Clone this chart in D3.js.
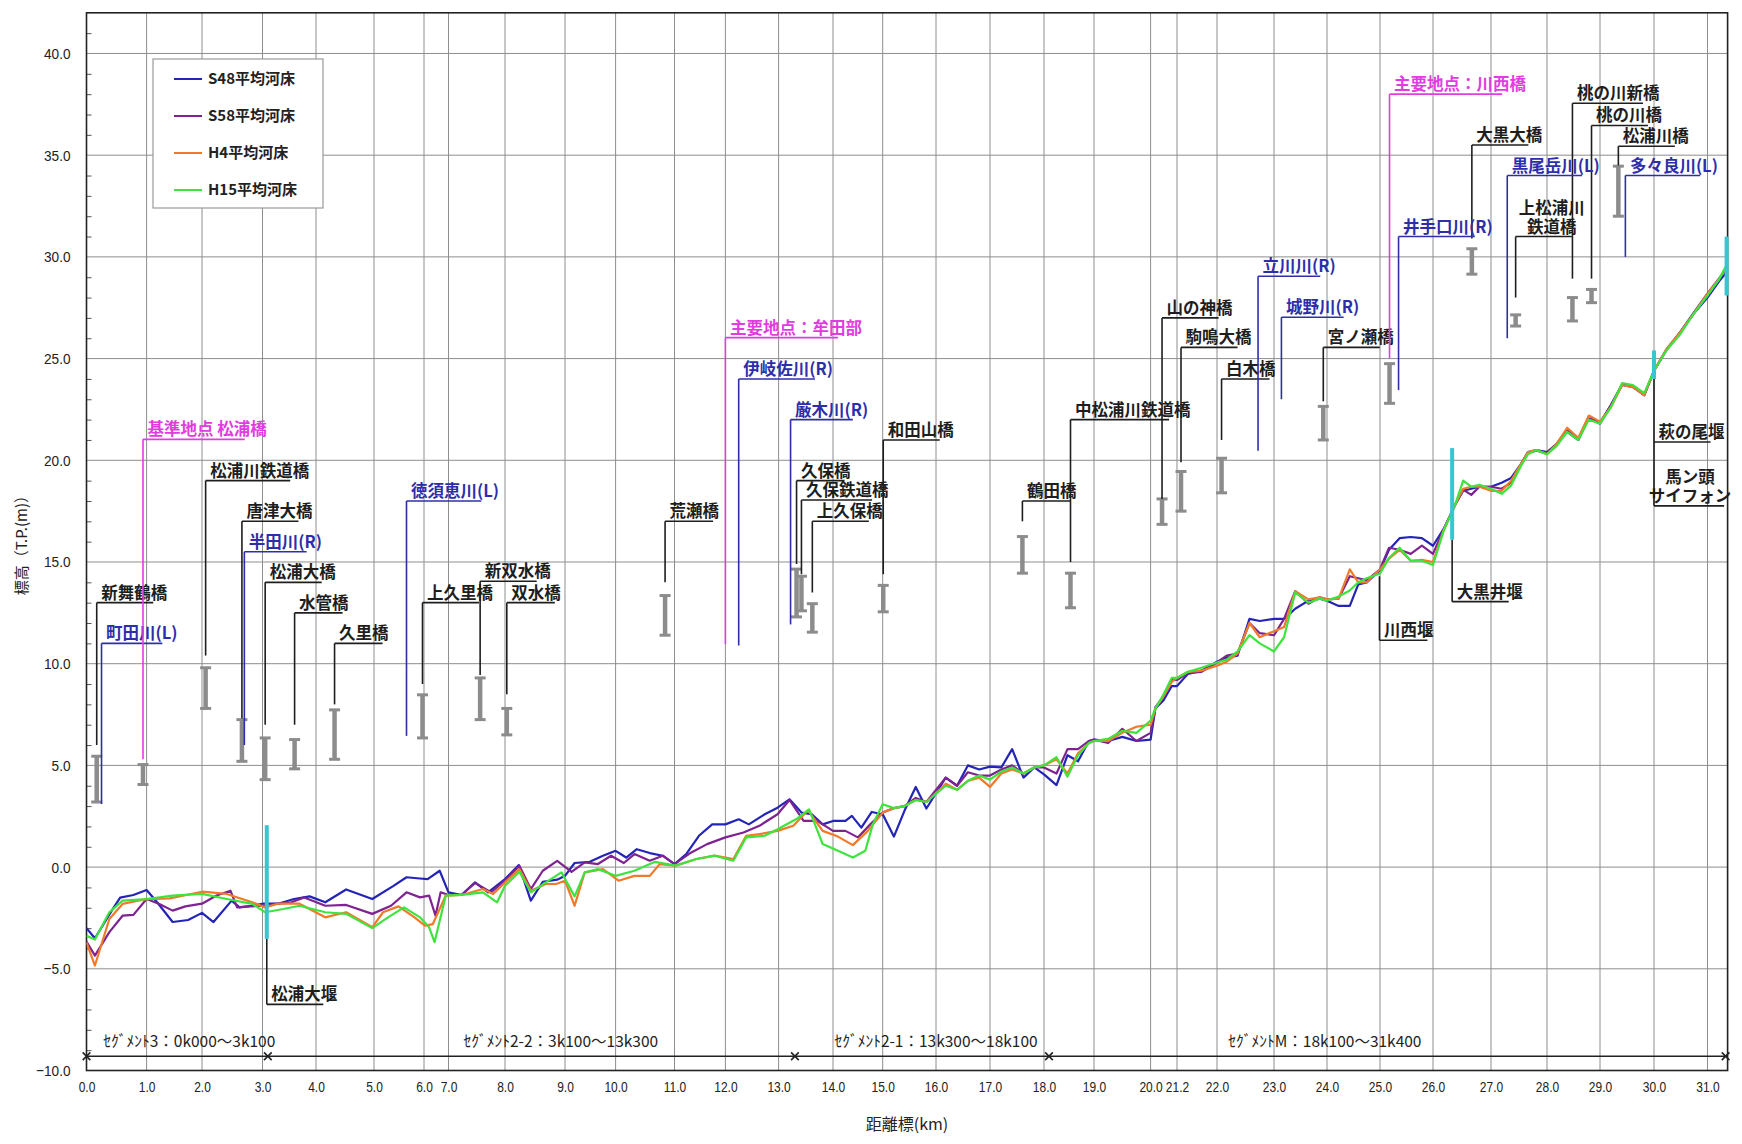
<!DOCTYPE html>
<html>
<head>
<meta charset="utf-8">
<script src="https://cdnjs.cloudflare.com/ajax/libs/d3/7.8.5/d3.min.js"></script>
<style>
  body { margin: 0; background: #fff; }
  svg text { font-family: "Noto Sans CJK JP", "Liberation Sans", sans-serif; }
</style>
</head>
<body>
<svg id="chart" width="1742" height="1144"></svg>
<script>
// ---- data ----
var xTicks = [0,1,2,3,4,5,6,7,8,9,10,11,12,13,14,15,16,17,18,19,20,21.2,22,23,24,25,26,27,28,29,30,31];
var xEnd = 31.4;
var yTicks = [-10,-5,0,5,10,15,20,25,30,35,40];

var seriesNames = ["S48平均河床", "S58平均河床", "H4平均河床", "H15平均河床"];

var s48 = [[0,-3.0],[0.14,-3.5],[0.42,-2.14],[0.56,-1.5],[0.78,-1.37],[1.0,-1.13],[1.19,-1.73],[1.47,-2.7],[1.75,-2.6],[2.0,-2.25],[2.19,-2.7],[2.49,-1.65],[2.62,-1.98],[2.83,-1.9],[3.0,-1.8],[3.29,-1.8],[3.59,-1.57],[3.88,-1.44],[4.16,-1.73],[4.52,-1.1],[4.97,-1.57],[5.39,-0.92],[5.65,-0.5],[5.92,-0.56],[6.15,-0.59],[6.64,-0.18],[7.0,-1.24],[7.23,-1.37],[7.47,-0.75],[7.7,-1.24],[8.0,-0.59],[8.23,0.1],[8.43,-1.65],[8.63,-0.72],[8.87,-0.62],[9.0,-0.43],[9.19,0.2],[9.49,0.26],[9.75,0.56],[10.0,0.8],[10.18,0.47],[10.36,0.88],[10.58,0.69],[10.8,0.56],[11.0,0.15],[11.23,0.64],[11.48,1.54],[11.74,2.1],[12.0,2.1],[12.25,2.35],[12.44,2.1],[12.74,2.6],[12.98,2.92],[13.2,3.33],[13.42,2.68],[13.61,2.6],[13.81,2.1],[14.0,2.27],[14.25,2.27],[14.38,2.52],[14.57,1.94],[14.78,2.71],[15.0,2.6],[15.21,1.5],[15.41,2.78],[15.62,3.94],[15.82,2.88],[16.18,4.4],[16.39,4.0],[16.59,5.0],[16.8,4.8],[17.0,4.94],[17.21,4.9],[17.41,5.8],[17.62,4.4],[17.82,4.9],[18.0,4.56],[18.25,4.03],[18.47,5.5],[18.68,5.2],[18.9,6.2],[19.0,6.27],[19.25,6.2],[19.5,6.4],[19.75,6.2],[20.0,6.27],[20.22,7.8],[20.59,8.2],[20.96,8.9],[21.2,8.9],[21.42,9.5],[21.69,9.66],[22.0,10.1],[22.17,10.3],[22.36,10.4],[22.57,12.2],[22.75,12.1],[23.0,12.2],[23.19,12.2],[23.4,12.7],[23.65,13.1],[23.86,13.2],[24.0,13.1],[24.22,12.84],[24.43,12.84],[24.59,13.9],[24.75,14.0],[25.0,14.6],[25.17,15.6],[25.37,16.17],[25.58,16.23],[25.79,16.17],[26.0,15.8],[26.19,16.65],[26.38,17.8],[26.52,18.5],[26.66,18.6],[26.8,18.7],[27.0,18.7],[27.19,18.9],[27.36,19.13],[27.53,19.8],[27.66,20.4],[27.81,20.5],[28.0,20.4],[28.18,20.8],[28.38,21.4],[28.59,21.0],[28.79,22.1],[29.0,21.8],[29.2,22.7],[29.41,23.7],[29.61,23.6],[29.82,23.2],[30.0,24.4],[30.23,25.4],[30.49,26.3],[30.74,27.2],[31.0,28.0],[31.23,28.8],[31.4,29.3]];

var s58 = [[0,-3.66],[0.14,-4.35],[0.38,-3.2],[0.6,-2.39],[0.78,-2.35],[1.0,-1.57],[1.23,-1.81],[1.47,-2.14],[1.7,-1.93],[2.0,-1.8],[2.24,-1.4],[2.47,-1.16],[2.58,-1.98],[2.79,-1.93],[3.0,-1.9],[3.29,-1.8],[3.54,-1.73],[3.78,-1.49],[4.16,-1.9],[4.52,-1.86],[4.97,-2.3],[5.34,-1.9],[5.65,-1.24],[5.92,-1.49],[6.21,-1.4],[6.47,-2.39],[6.68,-1.24],[7.0,-1.37],[7.23,-1.37],[7.47,-0.78],[7.75,-1.24],[8.0,-0.67],[8.24,0.07],[8.43,-1.08],[8.63,-0.18],[8.87,0.31],[9.13,-0.23],[9.39,0.23],[9.65,0.15],[9.91,0.56],[10.14,0.2],[10.32,0.64],[10.58,0.31],[10.8,0.56],[11.0,0.15],[11.33,0.72],[11.64,1.13],[12.0,1.46],[12.34,1.7],[12.64,2.03],[12.98,2.6],[13.2,3.3],[13.46,2.27],[13.71,2.27],[14.0,1.78],[14.25,1.78],[14.5,1.46],[14.75,2.1],[15.0,2.68],[15.21,2.9],[15.41,3.0],[15.62,3.4],[15.82,3.2],[16.18,4.4],[16.39,4.0],[16.59,4.66],[16.8,4.5],[17.0,4.5],[17.21,4.8],[17.41,5.0],[17.62,4.6],[17.82,4.9],[18.0,4.9],[18.25,4.6],[18.47,5.8],[18.68,5.8],[18.9,6.2],[19.0,6.27],[19.25,6.1],[19.5,6.8],[19.75,6.2],[20.0,6.6],[20.22,7.86],[20.59,8.4],[20.96,9.2],[21.2,9.2],[21.42,9.55],[21.69,9.6],[22.0,10.06],[22.17,10.4],[22.36,10.5],[22.57,12.0],[22.75,11.5],[23.0,11.4],[23.19,12.2],[23.4,13.57],[23.65,12.95],[23.86,13.26],[24.0,13.16],[24.22,13.2],[24.43,14.3],[24.59,14.2],[24.75,14.1],[25.0,14.64],[25.17,15.7],[25.37,15.6],[25.58,15.4],[25.79,15.8],[26.0,15.4],[26.19,16.65],[26.38,17.8],[26.52,18.56],[26.66,18.3],[26.8,18.7],[27.0,18.7],[27.19,18.6],[27.36,18.9],[27.53,19.77],[27.66,20.36],[27.81,20.47],[28.0,20.36],[28.18,20.8],[28.38,21.5],[28.59,21.0],[28.79,22.16],[29.0,21.84],[29.2,22.7],[29.41,23.75],[29.61,23.64],[29.82,23.2],[30.0,24.4],[30.23,25.45],[30.49,26.3],[30.74,27.25],[31.0,28.2],[31.23,28.94],[31.4,29.5]];

var h4 = [[0,-3.7],[0.14,-4.84],[0.38,-2.55],[0.6,-1.81],[1.0,-1.57],[1.42,-1.54],[2.0,-1.21],[2.41,-1.32],[2.83,-1.73],[3.05,-1.98],[3.29,-1.8],[3.69,-1.8],[4.16,-2.47],[4.52,-2.22],[4.97,-2.96],[5.18,-2.22],[5.49,-1.93],[5.81,-2.47],[6.04,-2.88],[6.36,-2.8],[6.89,-1.4],[7.23,-1.37],[7.61,-1.08],[7.79,-1.32],[8.0,-0.75],[8.24,-0.1],[8.43,-1.16],[8.68,-0.83],[8.85,-0.83],[9.0,-0.67],[9.19,-1.9],[9.39,-0.26],[9.75,-0.1],[10.05,-0.67],[10.32,-0.43],[10.58,-0.43],[10.75,0.15],[11.02,0.07],[11.43,0.4],[11.79,0.56],[12.15,0.4],[12.39,1.54],[12.64,1.62],[12.98,1.78],[13.27,2.03],[13.54,2.8],[13.81,1.78],[14.1,1.5],[14.4,1.08],[14.7,1.78],[15.0,2.68],[15.21,2.9],[15.41,3.0],[15.62,3.3],[15.82,3.2],[16.18,4.1],[16.39,3.8],[16.59,4.24],[16.8,4.4],[17.0,3.94],[17.21,4.6],[17.41,4.8],[17.62,4.6],[17.82,4.9],[18.0,5.0],[18.25,5.3],[18.47,4.6],[18.68,5.6],[18.9,6.1],[19.0,6.2],[19.25,6.2],[19.5,6.6],[19.75,6.9],[20.0,7.0],[20.22,7.8],[20.59,8.4],[20.96,9.1],[21.2,9.3],[21.42,9.6],[21.69,9.66],[22.0,9.9],[22.17,10.1],[22.36,10.5],[22.57,12.0],[22.75,11.3],[23.0,11.6],[23.19,11.8],[23.4,13.57],[23.65,13.16],[23.86,13.26],[24.0,13.16],[24.22,13.2],[24.43,14.64],[24.59,14.0],[24.75,14.0],[25.0,14.64],[25.17,15.17],[25.37,15.6],[25.58,15.06],[25.79,15.1],[26.0,15.0],[26.19,16.6],[26.38,17.8],[26.52,18.6],[26.66,18.7],[26.8,18.7],[27.0,18.5],[27.19,18.5],[27.36,19.0],[27.53,19.8],[27.66,20.4],[27.81,20.5],[28.0,20.3],[28.18,20.8],[28.38,21.6],[28.59,21.1],[28.79,22.2],[29.0,21.9],[29.2,22.6],[29.41,23.7],[29.61,23.6],[29.82,23.2],[30.0,24.4],[30.23,25.45],[30.49,26.3],[30.74,27.2],[31.0,28.2],[31.23,28.9],[31.4,29.6]];

var h15 = [[0,-3.37],[0.14,-3.56],[0.38,-2.22],[0.6,-1.65],[1.0,-1.57],[1.47,-1.4],[2.0,-1.32],[2.41,-1.57],[2.83,-1.81],[3.05,-2.22],[3.39,-2.06],[3.69,-1.9],[4.16,-2.22],[4.52,-2.3],[4.97,-3.0],[5.28,-2.47],[5.6,-1.98],[5.92,-2.47],[6.21,-2.96],[6.43,-3.69],[6.89,-1.4],[7.23,-1.37],[7.61,-1.24],[7.86,-1.73],[8.0,-0.92],[8.24,-0.23],[8.43,-1.24],[8.68,-0.75],[8.94,-0.26],[9.19,-1.44],[9.39,-0.26],[9.65,-0.1],[10.0,-0.43],[10.32,-0.18],[10.67,0.26],[11.02,0.07],[11.43,0.4],[11.79,0.56],[12.15,0.31],[12.39,1.46],[12.74,1.54],[12.98,1.86],[13.32,2.35],[13.56,2.84],[13.81,1.13],[14.1,0.8],[14.4,0.47],[14.65,0.8],[14.8,2.1],[15.0,3.09],[15.21,2.9],[15.41,3.0],[15.62,3.3],[15.82,3.2],[16.18,4.0],[16.39,3.8],[16.59,4.24],[16.8,4.5],[17.0,4.3],[17.21,4.7],[17.41,4.9],[17.62,4.6],[17.82,4.9],[18.0,5.0],[18.25,5.4],[18.47,4.45],[18.68,5.5],[18.9,6.1],[19.0,6.2],[19.25,6.3],[19.5,6.7],[19.75,6.6],[20.0,7.2],[20.22,7.8],[20.59,8.5],[20.96,9.3],[21.2,9.3],[21.42,9.6],[21.69,9.8],[22.0,10.06],[22.17,10.2],[22.36,10.6],[22.57,11.4],[22.75,11.0],[23.0,10.6],[23.19,11.3],[23.4,13.5],[23.65,13.0],[23.86,13.2],[24.0,13.1],[24.22,13.3],[24.43,13.6],[24.59,14.0],[24.75,14.2],[25.0,14.43],[25.17,15.2],[25.37,15.7],[25.58,15.06],[25.79,15.06],[26.0,14.85],[26.19,16.6],[26.38,17.8],[26.52,19.0],[26.66,18.7],[26.8,18.8],[27.0,18.6],[27.19,18.35],[27.36,18.77],[27.53,19.7],[27.66,20.3],[27.81,20.5],[28.0,20.3],[28.18,20.7],[28.38,21.4],[28.59,21.0],[28.79,22.0],[29.0,21.8],[29.2,22.6],[29.41,23.8],[29.61,23.7],[29.82,23.3],[30.0,24.4],[30.23,25.4],[30.49,26.2],[30.74,27.2],[31.0,28.1],[31.23,28.9],[31.4,29.7]];

// bridges: km, label elevation, leader bottom elevation, bar [lo, hi]
var bridges = [
  {name: "新舞鶴橋", km: 0.17, label: 13.0, from: 6.0, lo: 3.2, hi: 5.45},
  {name: "松浦川鉄道橋", km: 2.06, label: 19.0, from: 10.4, lo: 7.8, hi: 9.8},
  {name: "唐津大橋", km: 2.66, label: 17.0, from: 7.3, lo: 5.2, hi: 7.25},
  {name: "松浦大橋", km: 3.05, label: 14.0, from: 7.0, lo: 4.3, hi: 6.35},
  {name: "水管橋", km: 3.6, label: 12.5, from: 7.0, lo: 4.83, hi: 6.27},
  {name: "久里橋", km: 4.32, label: 11.0, from: 8.0, lo: 5.3, hi: 7.73},
  {name: "上久里橋", km: 5.97, label: 13.0, from: 9.0, lo: 6.35, hi: 8.47},
  {name: "新双水橋", km: 7.56, label: 14.05, from: 9.45, lo: 7.25, hi: 9.3},
  {name: "双水橋", km: 8.03, label: 13.0, from: 8.5, lo: 6.5, hi: 7.8},
  {name: "荒瀬橋", km: 10.84, label: 17.0, from: 14.0, lo: 11.4, hi: 13.35},
  {name: "久保橋", km: 13.33, label: 19.0, from: 14.9, lo: 12.3, hi: 14.65},
  {name: "久保鉄道橋", km: 13.42, label: 18.05, from: 14.4, lo: 12.6, hi: 14.3},
  {name: "上久保橋", km: 13.62, label: 17.0, from: 13.5, lo: 11.55, hi: 12.95},
  {name: "和田山橋", km: 15.01, label: 21.0, from: 14.4, lo: 12.55, hi: 13.85},
  {name: "鶴田橋", km: 17.6, label: 18.0, from: 17.0, lo: 14.45, hi: 16.25},
  {name: "中松浦川鉄道橋", km: 18.53, label: 22.0, from: 15.0, lo: 12.75, hi: 14.45},
  {name: "山の神橋", km: 20.52, label: 27.0, from: 18.1, lo: 16.85, hi: 18.1},
  {name: "駒鳴大橋", km: 21.28, label: 25.55, from: 19.9, lo: 17.5, hi: 19.45},
  {name: "白木橋", km: 22.08, label: 24.0, from: 21.0, lo: 18.4, hi: 20.1},
  {name: "宮ノ瀬橋", km: 23.93, label: 25.55, from: 22.9, lo: 21.0, hi: 22.65},
  {name: "大黒大橋", km: 26.67, label: 35.5, from: 30.9, lo: 29.15, hi: 30.4},
  {name: "上松浦川\n鉄道橋", km: 27.44, label: 31.0, from: 28.0, lo: 26.6, hi: 27.15},
  {name: "桃の川新橋", km: 28.48, label: 37.55, from: 28.93, lo: 26.85, hi: 28.0},
  {name: "桃の川橋", km: 28.84, label: 36.46, from: 28.93, lo: 27.75, hi: 28.4},
  {name: "松浦川橋", km: 29.34, label: 35.44, from: 34.5, lo: 32.0, hi: 34.46}
];

var mainPoints = [
  {name: "基準地点 松浦橋", km: 0.94, label: 21.03, from: 5.3, lo: 4.06, hi: 5.04},
  {name: "主要地点：牟田部", km: 12.0, label: 26.03, from: 10.95},
  {name: "主要地点：川西橋", km: 25.18, label: 38.0, from: 25.0, lo: 22.8, hi: 24.75}
];

var tributaries = [
  {name: "町田川(L)", km: 0.25, label: 11.0, from: 3.1},
  {name: "半田川(R)", km: 2.7, label: 15.5, from: 6.0},
  {name: "徳須恵川(L)", km: 5.65, label: 18.0, from: 6.45},
  {name: "伊岐佐川(R)", km: 12.25, label: 24.0, from: 10.9},
  {name: "厳木川(R)", km: 13.22, label: 22.0, from: 11.93},
  {name: "立川川(R)", km: 22.72, label: 29.05, from: 20.47},
  {name: "城野川(R)", km: 23.14, label: 27.03, from: 23.0},
  {name: "井手口川(R)", km: 25.35, label: 31.0, from: 23.45},
  {name: "黒尾岳川(L)", km: 27.29, label: 34.0, from: 26.0},
  {name: "多々良川(L)", km: 29.47, label: 34.0, from: 30.0}
];

// weirs: cyan bar [lo, hi] and label below
var weirs = [
  {name: "松浦大堰", km: 3.08, lo: -3.53, hi: 2.06, label: -6.75, from: -3.53},
  {name: "川西堰", km: 24.99, label: 11.15, from: 14.3},
  {name: "大黒井堰", km: 26.33, lo: 16.1, hi: 20.6, label: 13.05, from: 16.1},
  {name: "萩の尾堰", km: 30.0, lo: 24.0, hi: 25.4, label: 20.9, from: 24.0},
  {name: "馬ン頭\nサイフォン", km: 30.0, label: 17.76, from: 20.9},
  {name: "", km: 31.38, lo: 28.1, hi: 31.0}
];

var segBounds = [0, 3.1, 13.3, 18.1, 31.4];
var segNames = ["ｾｸﾞﾒﾝﾄ3：0k000～3k100", "ｾｸﾞﾒﾝﾄ2-2：3k100～13k300", "ｾｸﾞﾒﾝﾄ2-1：13k300～18k100", "ｾｸﾞﾒﾝﾄM：18k100～31k400"];
var segLabelKm = [1.77, 8.93, 16.0, 23.96];
var segLineElev = -9.3;

// ---- layout ----
var plotLeft = 86.5, plotTop = 12.8, plotBottom = 1070.5;
// pixel offsets of each gridline from the left edge (the km posts are not evenly spaced)
var gridOffsets = [0, 60.1, 115.5, 176, 229.5, 287.5, 337.5, 362, 418.5, 478.5, 529.1, 588, 638.9, 692.1, 746.5, 796.2, 849.5, 903.5, 957.5, 1007.5, 1064.1, 1090.5, 1130.5, 1187.5, 1240.5, 1293.5, 1346.5, 1404.5, 1460.5, 1513.5, 1567.5, 1621, 1641.1];
var plotRight = plotLeft + gridOffsets[gridOffsets.length - 1];

var colors = ["#2424b8", "#7e2390", "#f07a2a", "#3ee43e"];
var blue = "#2e2eaa", magenta = "#e03ce0", cyan = "#35c6d2", barGray = "#8c8c8c";
var numFont = "'Liberation Sans', Arial, sans-serif";

var svg = d3.select("#chart");

var x = d3.scaleLinear()
    .domain(xTicks.concat([xEnd]))
    .range(gridOffsets.map(function(o) { return plotLeft + o; }));
var y = d3.scaleLinear().domain([-10, 42]).range([plotBottom, plotTop]);

// grid
svg.append("g").selectAll("line")
    .data(xTicks.slice(1))
  .enter().append("line")
    .attr("x1", function(d) { return x(d); }).attr("x2", function(d) { return x(d); })
    .attr("y1", plotTop).attr("y2", plotBottom)
    .attr("stroke", "#8e8e8e").attr("stroke-width", 1);

svg.append("g").selectAll("line")
    .data(yTicks.slice(1))
  .enter().append("line")
    .attr("x1", plotLeft).attr("x2", plotRight)
    .attr("y1", function(d) { return y(d); }).attr("y2", function(d) { return y(d); })
    .attr("stroke", "#8e8e8e").attr("stroke-width", 1);

// minor y ticks
var minor = d3.range(-9, 42).filter(function(d) { return d % 5 !== 0; });
svg.append("g")
    .attr("transform", "translate(" + plotLeft + ",0)")
    .call(d3.axisLeft(y).tickValues(minor).tickSize(-5).tickFormat(""))
    .call(function(g) { g.select(".domain").remove(); g.selectAll("line").attr("stroke", "#555"); });

// axes labels (condensed, like the original narrow font)
svg.append("g")
    .attr("transform", "translate(0," + plotBottom + ")")
    .call(d3.axisBottom(x).tickValues(xTicks).tickSize(0).tickPadding(11).tickFormat(d3.format(".1f")))
    .call(function(g) {
      g.select(".domain").remove();
      g.selectAll("text").attr("font-size", 15).attr("fill", "#222")
        .attr("transform", "scale(0.8,1)")
        .style("font-family", numFont);
    });

svg.append("g")
    .attr("transform", "translate(" + (plotLeft - 16) + ",0)")
    .call(d3.axisLeft(y).tickValues(yTicks).tickSize(0).tickPadding(0).tickFormat(d3.format(".1f")))
    .call(function(g) {
      g.select(".domain").remove();
      g.selectAll("text").attr("font-size", 15.5).attr("fill", "#222")
        .attr("transform", "scale(0.88,1)")
        .style("font-family", numFont);
    });

// frame
svg.append("rect")
    .attr("x", plotLeft).attr("y", plotTop)
    .attr("width", plotRight - plotLeft).attr("height", plotBottom - plotTop)
    .attr("fill", "none").attr("stroke", "#222").attr("stroke-width", 1.6);

// titles
svg.append("text")
    .attr("transform", "translate(27," + ((plotTop + plotBottom) / 2) + ") rotate(-90)")
    .attr("text-anchor", "middle").attr("font-size", 15).attr("fill", "#222")
    .text("標高（T.P.(m)）");
svg.append("text")
    .attr("x", (plotLeft + plotRight) / 2).attr("y", 1130)
    .attr("text-anchor", "middle").attr("font-size", 16).attr("fill", "#222")
    .text("距離標(km)");

// segments
var segY = y(segLineElev);
svg.append("line")
    .attr("x1", x(0)).attr("x2", x(xEnd))
    .attr("y1", segY).attr("y2", segY)
    .attr("stroke", "#222").attr("stroke-width", 1.5);
svg.append("g").selectAll("path")
    .data(segBounds)
  .enter().append("path")
    .attr("d", d3.symbol().type(d3.symbolX).size(40))
    .attr("transform", function(d) { return "translate(" + Math.min(x(d), plotRight - 2) + "," + segY + ")"; })
    .attr("stroke", "#222").attr("stroke-width", 1.6);
svg.append("g").selectAll("text")
    .data(segNames)
  .enter().append("text")
    .attr("x", function(d, i) { return x(segLabelKm[i]); })
    .attr("y", segY - 9)
    .attr("text-anchor", "middle").attr("font-size", 15.5).attr("fill", "#222")
    .text(function(d) { return d; });

// annotations
var ann = svg.append("g");

function bar(km, lo, hi) {
  var bx = x(km);
  ann.append("line").attr("x1", bx).attr("x2", bx).attr("y1", y(hi)).attr("y2", y(lo))
      .attr("stroke", barGray).attr("stroke-width", 4.5);
  [lo, hi].forEach(function(v) {
    ann.append("line").attr("x1", bx - 5.5).attr("x2", bx + 5.5).attr("y1", y(v)).attr("y2", y(v))
        .attr("stroke", barGray).attr("stroke-width", 3);
  });
}

function leader(a, color) {
  var x0 = x(a.km), yl = y(a.label);
  ann.append("line").attr("x1", x0).attr("x2", x0).attr("y1", yl).attr("y2", y(a.from))
      .attr("stroke", color).attr("stroke-width", 1.6);
  var lines = a.name.split("\n");
  var multi = lines.length > 1;
  var t = ann.append("text")
      .attr("font-size", 16.5).attr("font-weight", "bold").attr("fill", color)
      .attr("text-anchor", multi ? "middle" : "start");
  lines.forEach(function(s, i) {
    t.append("tspan")
        .attr("x", multi ? x0 + 36 : x0 + 4.5)
        .attr("y", yl - 4 - (lines.length - 1 - i) * 19)
        .text(s);
  });
  var w = t.node().getBBox().width;
  ann.append("line").attr("x1", x0).attr("x2", x0 + Math.max(48, w * 0.85))
      .attr("y1", yl).attr("y2", yl)
      .attr("stroke", color).attr("stroke-width", 1.6);
}

bridges.forEach(function(b) { bar(b.km, b.lo, b.hi); });
mainPoints.forEach(function(b) { if (b.lo != null) bar(b.km, b.lo, b.hi); });

bridges.forEach(function(b) { leader(b, "#1e1e1e"); });
tributaries.forEach(function(b) { leader(b, blue); });
mainPoints.forEach(function(b) { leader(b, magenta); });
weirs.forEach(function(b) { if (b.name) leader(b, "#1e1e1e"); });

// bed lines
svg.append("clipPath").attr("id", "clip")
  .append("rect").attr("x", plotLeft).attr("y", plotTop)
    .attr("width", plotRight - plotLeft).attr("height", plotBottom - plotTop);

var line = d3.line()
    .x(function(d) { return x(d[0]); })
    .y(function(d) { return y(d[1]); });

svg.append("g").attr("clip-path", "url(#clip)")
  .selectAll("path")
    .data([s48, s58, h4, h15])
  .enter().append("path")
    .attr("d", line)
    .attr("fill", "none")
    .attr("stroke", function(d, i) { return colors[i]; })
    .attr("stroke-width", 2.2)
    .attr("stroke-linejoin", "round");

// weir bars (cyan)
weirs.forEach(function(w) {
  if (w.lo == null) return;
  svg.append("line").attr("x1", x(w.km)).attr("x2", x(w.km))
      .attr("y1", y(w.hi)).attr("y2", y(w.lo))
      .attr("stroke", cyan).attr("stroke-width", 4);
});

// legend
var lg = svg.append("g").attr("transform", "translate(153,59)");
lg.append("rect").attr("width", 170).attr("height", 149)
    .attr("fill", "#fff").attr("stroke", "#9a9a9a").attr("stroke-width", 1.2);
var item = lg.selectAll("g")
    .data(seriesNames)
  .enter().append("g")
    .attr("transform", function(d, i) { return "translate(0," + (20 + i * 37) + ")"; });
item.append("line").attr("x1", 21).attr("x2", 49)
    .attr("stroke", function(d, i) { return colors[i]; }).attr("stroke-width", 2);
item.append("text").attr("x", 55).attr("dy", "0.36em")
    .attr("font-size", 15).attr("font-weight", "bold").attr("fill", "#222")
    .text(function(d) { return d; });
</script>
</body>
</html>
